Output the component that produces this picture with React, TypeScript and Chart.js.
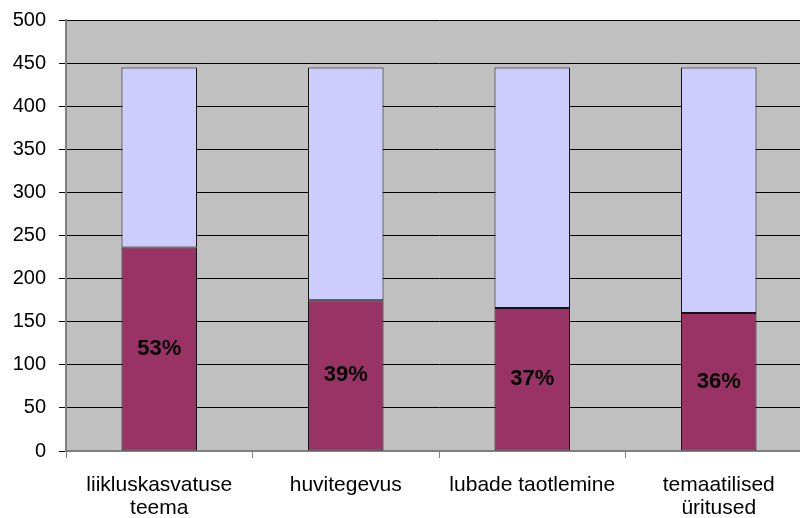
import React, { useEffect, useRef } from "react";
import { Chart, registerables } from "chart.js";

Chart.register(...registerables);

const categories: (string | string[])[] = [
  ["liikluskasvatuse", "teema"],
  "huvitegevus",
  "lubade taotlemine",
  ["temaatilised", "üritused"],
];
const bottomValues = [236, 175, 166, 160];
const topValues = [209, 270, 279, 285];
const percentLabels = ["53%", "39%", "37%", "36%"];

const FONT = "'Liberation Sans', Arial, sans-serif";

export default function App() {
  const ref = useRef<HTMLCanvasElement>(null);
  useEffect(() => {
    if (!ref.current) return;
    const bgPlugin = {
      id: "bg",
      beforeDraw(chart: any) {
        const { ctx, chartArea } = chart;
        ctx.save();
        ctx.fillStyle = "#C0C0C0";
        ctx.fillRect(chartArea.left, chartArea.top, chartArea.right - chartArea.left, chartArea.bottom - chartArea.top);
        ctx.restore();
      },
    };
    const labelPlugin = {
      id: "pct",
      afterDatasetsDraw(chart: any) {
        const { ctx } = chart;
        const meta = chart.getDatasetMeta(0);
        ctx.save();
        ctx.font = `bold 22px ${FONT}`;
        ctx.fillStyle = "#000";
        ctx.textAlign = "center";
        ctx.textBaseline = "middle";
        meta.data.forEach((el: any, i: number) => {
          const y = (el.y + el.base) / 2;
          ctx.fillText(percentLabels[i], el.x, y);
        });
        ctx.restore();
      },
    };
    const chart = new Chart(ref.current, {
      type: "bar",
      data: {
        labels: categories,
        datasets: [
          {
            data: bottomValues,
            backgroundColor: "#993366",
            borderColor: "#111",
            borderWidth: 1,
            borderSkipped: false,
            categoryPercentage: 1,
            barPercentage: 0.405,
          },
          {
            data: topValues,
            backgroundColor: "#CCCCFF",
            borderColor: "#111",
            borderWidth: 1,
            borderSkipped: false,
            categoryPercentage: 1,
            barPercentage: 0.405,
          },
        ],
      },
      options: {
        responsive: false,
        animation: false,
        layout: { padding: { top: 20, left: 0, right: 0, bottom: 0 } },
        plugins: { legend: { display: false }, tooltip: { enabled: false } },
        scales: {
          x: {
            stacked: true,
            afterFit(scale: any) {
              scale.height = 67;
              scale.paddingLeft = 0;
              scale.paddingRight = 0;
            },
            grid: {
              offset: true,
              drawOnChartArea: false,
              tickLength: 7,
              color: "#808080",
            },
            border: { color: "#808080", width: 2 },
            ticks: {
              padding: 15,
              color: "#000",
              maxRotation: 0,
              autoSkip: false,
              font: { family: FONT, size: 21, lineHeight: 1.12 },
            },
          },
          y: {
            stacked: true,
            min: 0,
            max: 500,
            afterFit(scale: any) {
              scale.width = 66;
              scale.paddingTop = 0;
              scale.paddingBottom = 0;
            },
            grid: {
              color: "#000",
              tickLength: 7,
              lineWidth: 1,
            },
            border: { color: "#808080", width: 2 },
            ticks: {
              stepSize: 50,
              padding: 13,
              color: "#000",
              font: { family: FONT, size: 20 },
            },
          },
        },
      },
      plugins: [bgPlugin, labelPlugin],
    });
    return () => chart.destroy();
  }, []);
  return (
    <div style={{ position: "fixed", left: 0, top: 0, width: 800, height: 518, overflow: "hidden", background: "#fff" }}>
      <canvas ref={ref} width={812} height={518} style={{ width: 812, height: 518, display: "block" }} />
    </div>
  );
}
